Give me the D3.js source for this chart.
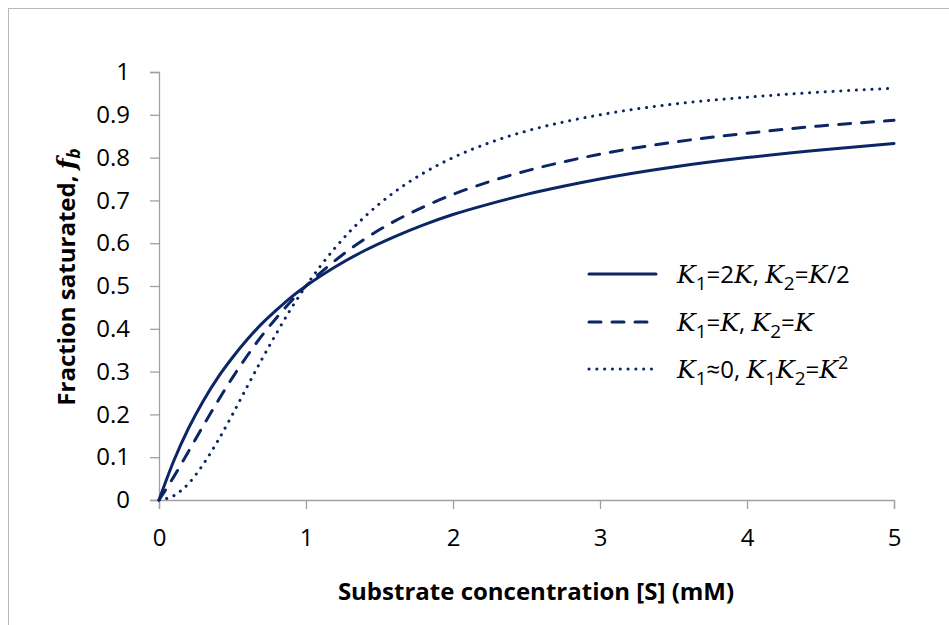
<!DOCTYPE html>
<html>
<head>
<meta charset="utf-8">
<script src="https://cdn.jsdelivr.net/npm/d3@7"></script>
<style>
  body { margin: 0; background: #fff; }
  svg text { font-family: "Open Sans", Lato, sans-serif; fill: #000; }
</style>
</head>
<body>
<div id="chart"></div>
<script>
// substrate concentration (mM)
var sValues = [0, 0.1, 0.2, 0.3, 0.4, 0.5, 0.6, 0.7, 0.8, 0.9, 1.0, 1.2, 1.4, 1.6, 1.8, 2.0, 2.25, 2.5, 2.75, 3.0, 3.5, 4.0, 4.5, 5.0];
// fraction saturated
var solidVals  = [0, 0.091, 0.167, 0.231, 0.286, 0.333, 0.375, 0.412, 0.444, 0.474, 0.5, 0.545, 0.583, 0.615, 0.643, 0.667, 0.692, 0.714, 0.733, 0.75, 0.778, 0.8, 0.818, 0.833];
var dashedVals = [0, 0.054, 0.113, 0.173, 0.231, 0.286, 0.337, 0.384, 0.426, 0.465, 0.5, 0.560, 0.610, 0.651, 0.685, 0.714, 0.744, 0.769, 0.790, 0.808, 0.836, 0.857, 0.874, 0.887];
var dottedVals = [0, 0.010, 0.038, 0.083, 0.138, 0.2, 0.265, 0.329, 0.390, 0.448, 0.5, 0.590, 0.662, 0.719, 0.764, 0.8, 0.835, 0.862, 0.883, 0.9, 0.925, 0.941, 0.953, 0.962];
var xTicks = [0, 1, 2, 3, 4, 5];
var yTicks = [0, 0.1, 0.2, 0.3, 0.4, 0.5, 0.6, 0.7, 0.8, 0.9, 1];

var width = 949, height = 625;
var navy = "#0b2565";

var svg = d3.select("#chart").append("svg")
    .attr("width", width)
    .attr("height", height);

// chart frame
svg.append("rect")
    .attr("x", 8.5).attr("y", 8.5)
    .attr("width", 960).attr("height", 640)
    .attr("fill", "none")
    .attr("stroke", "#b8b8b8")
    .attr("stroke-width", 1);

var x = d3.scaleLinear().domain([0, 5]).range([159, 894]);
var y = d3.scaleLinear().domain([0, 1]).range([500, 72]);

var xAxis = svg.append("g")
    .attr("transform", "translate(0,500)")
    .call(d3.axisBottom(x).tickValues(xTicks).tickSize(9).tickPadding(20).tickFormat(d3.format("d")));

var yAxis = svg.append("g")
    .attr("transform", "translate(159,0)")
    .call(d3.axisLeft(y).tickValues(yTicks).tickSize(9).tickPadding(20).tickFormat(function(d) { return d === 0 || d === 1 ? d3.format("d")(d) : d3.format(".1f")(d); }));

[xAxis, yAxis].forEach(function(g) {
  g.select(".domain").attr("stroke", "#a0a0a0").attr("stroke-width", 1.3);
  g.selectAll(".tick line").attr("stroke", "#a0a0a0").attr("stroke-width", 1.3);
  g.selectAll(".tick text").attr("font-size", "24px").attr("fill", "#000")
    .style("font-family", "'Open Sans', Lato, sans-serif");
});

var line = d3.line()
    .x(function(d) { return x(d[0]); })
    .y(function(d) { return y(d[1]); })
    .curve(d3.curveMonotoneX);

var series = [
  {vals: solidVals, dash: null, label: ["K", "1", "=2", "K", ", ", "K", "2", "=", "K", "/2"]},
  {vals: dashedVals, dash: "12,11", label: ["K", "1", "=", "K", ", ", "K", "2", "=", "K"]},
  {vals: dottedVals, dash: "0.1,7.7", label: ["K", "1", "≈0, ", "K", "1", "K", "2", "=", "K", "2sup"]}
];

series.forEach(function(s) {
  var pts = sValues.map(function(v, i) { return [v, s.vals[i]]; });
  svg.append("path")
      .datum(pts)
      .attr("fill", "none")
      .attr("stroke", navy)
      .attr("stroke-width", 3)
      .attr("stroke-linecap", "round")
      .attr("stroke-dasharray", s.dash)
      .attr("d", line);
});

// legend
var legendY = [274, 322, 369];
series.forEach(function(s, i) {
  var ly = legendY[i];
  svg.append("line")
      .attr("x1", 589).attr("x2", 656)
      .attr("y1", ly).attr("y2", ly)
      .attr("stroke", navy)
      .attr("stroke-width", 3)
      .attr("stroke-linecap", "round")
      .attr("stroke-dasharray", s.dash);

  var t = svg.append("text")
      .attr("x", 677).attr("y", ly + 9)
      .attr("font-size", "24px");
  // pieces: K italic, digits after K become subscripts
  var prevK = false;
  s.label.forEach(function(p) {
    var ts = t.append("tspan");
    if (p === "K") {
      ts.text("K").style("font-family", "'DejaVu Serif', serif").style("font-style", "italic").attr("font-size", "25px");
      prevK = true;
      return;
    }
    if (prevK && (p === "1" || p === "2")) {
      ts.text(p).attr("dy", 7).attr("font-size", "19px");
      t.append("tspan").text("\u200b").attr("dy", -7);
    } else if (p === "2sup") {
      ts.text("2").attr("dy", -9).attr("font-size", "18px");
    } else {
      ts.text(p);
    }
    prevK = false;
  });
});

// axis titles
svg.append("text")
    .attr("x", 536).attr("y", 600)
    .attr("text-anchor", "middle")
    .attr("font-size", "24px")
    .attr("font-weight", "bold")
    .text("Substrate concentration [S] (mM)");

var yt = svg.append("text")
    .attr("transform", "translate(75,277) rotate(-90)")
    .attr("text-anchor", "middle")
    .attr("font-size", "24px")
    .attr("font-weight", "bold");
yt.append("tspan").text("Fraction saturated, ");
yt.append("tspan").text("f").style("font-style", "italic").style("font-family", "'DejaVu Serif', serif").attr("font-size", "25px");
yt.append("tspan").text("b").attr("dy", 5).attr("font-size", "17px").style("font-style", "italic");
</script>
</body>
</html>
